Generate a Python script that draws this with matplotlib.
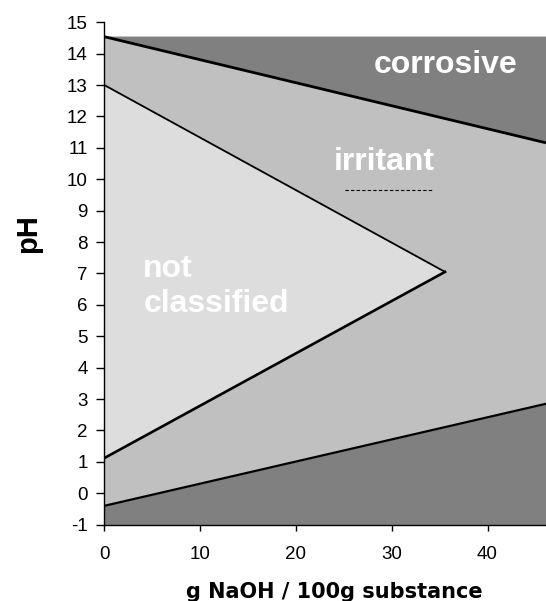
import matplotlib
matplotlib.use("Agg")
import matplotlib.pyplot as plt

# ---- data ----
x_edges = [0.0, 46.1]                 # g NaOH / 100 g substance
upper_corrosive_line = [14.54, 11.16] # pH boundary corrosive / irritant (alkaline)
lower_corrosive_line = [-0.40, 2.85]  # pH boundary corrosive / irritant (acidic)
region_top = 14.56
region_bottom = -1.0

triangle_x = [0.0, 35.56, 0.0]        # not classified zone
triangle_ph = [13.0, 7.05, 1.12]

dash_x = [25.1, 34.2]                 # small dashed mark under "irritant"
dash_y = [9.67, 9.67]

x_ticks = [0, 10, 20, 30, 40]
y_ticks = list(range(-1, 16))

labels = ["corrosive", "irritant", "not", "classified"]
label_x = [28.15, 23.9, 4.07, 4.07]
label_y = [13.37, 10.29, 6.89, 5.77]

dark = "#808080"
mid = "#c0c0c0"
light = "#dddddd"

fig = plt.figure(figsize=(5.46, 6.01), dpi=100)
ax = fig.add_axes([0.191, 0.127, 0.809, 0.836])

ax.fill_between(x_edges, region_bottom, lower_corrosive_line, color=dark, lw=0)
ax.fill_between(x_edges, lower_corrosive_line, upper_corrosive_line, color=mid, lw=0)
ax.fill_between(x_edges, upper_corrosive_line, region_top, color=dark, lw=0)
ax.fill(triangle_x, triangle_ph, color=light, lw=0)

ax.plot(x_edges, upper_corrosive_line, color="black", lw=2.0, solid_capstyle="butt")
ax.plot(x_edges, lower_corrosive_line, color="black", lw=1.6, solid_capstyle="butt")
ax.plot(triangle_x[:2], triangle_ph[:2], color="black", lw=1.3)
ax.plot(triangle_x[1:], triangle_ph[1:], color="black", lw=1.9)
ax.plot(dash_x, dash_y, color="black", lw=0.8, linestyle=(0, (3, 2)))

for t, lx, ly in zip(labels, label_x, label_y):
    ax.text(lx, ly, t, color="white", fontsize=23, fontweight="bold",
            family="Liberation Sans", ha="left", va="baseline")

ax.set_xlim(0, 46.1)
ax.set_ylim(-1, 15)
ax.set_xticks(x_ticks)
ax.set_yticks(y_ticks)
ax.set_xticklabels([str(v) for v in x_ticks], family="Liberation Sans", fontsize=13.5)
ax.set_yticklabels([str(v) for v in y_ticks], family="Liberation Sans", fontsize=13.5)
ax.tick_params(axis="x", direction="out", length=4.3, width=1, pad=11.2)
ax.tick_params(axis="y", direction="out", length=5.5, width=1, pad=6.5)

for s in ["top", "right"]:
    ax.spines[s].set_visible(False)
for s in ["left", "bottom"]:
    ax.spines[s].set_linewidth(1)
    ax.spines[s].set_color("black")

ax.set_xlabel("g NaOH / 100g substance", family="DejaVu Sans", fontweight="bold",
              fontsize=15)
ax.xaxis.label.set_va("baseline")
ax.xaxis.set_label_coords(0.52, -0.1465)

ax.set_ylabel("pH", family="Liberation Sans", fontweight="bold", fontsize=21)
ax.yaxis.label.set_va("center")
ax.yaxis.label.set_ha("center")
ax.yaxis.set_label_coords(-0.1727, 0.5786)

fig.savefig("out.png", dpi=100)
